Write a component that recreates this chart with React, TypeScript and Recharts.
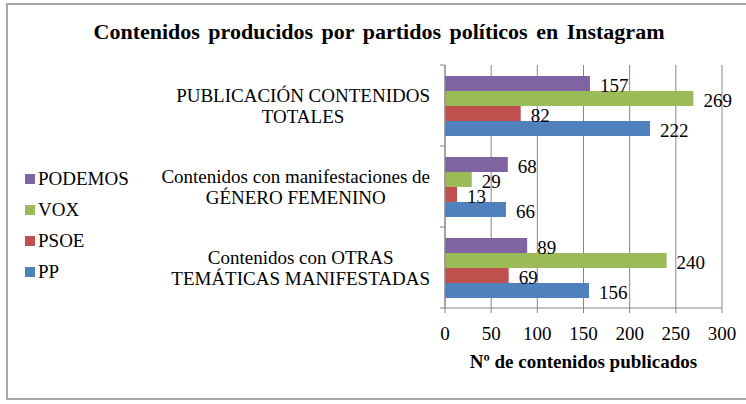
import React from "react";
import { Bar, BarChart, CartesianGrid, LabelList, Legend, XAxis, YAxis } from "recharts";

const categories = [
  "PUBLICACIÓN CONTENIDOS\nTOTALES",
  "Contenidos con manifestaciones de\nGÉNERO FEMENINO",
  "Contenidos con OTRAS\nTEMÁTICAS MANIFESTADAS",
];
const podemos = [157, 68, 89];
const vox = [269, 29, 240];
const psoe = [82, 13, 69];
const pp = [222, 66, 156];
const xTicks = [0, 50, 100, 150, 200, 250, 300];

const series = [
  { key: "PODEMOS", values: podemos, color: "#8064A2" },
  { key: "VOX", values: vox, color: "#9BBB59" },
  { key: "PSOE", values: psoe, color: "#C0504D" },
  { key: "PP", values: pp, color: "#4F81BD" },
];

const data = categories.map((name, i) => {
  const row: Record<string, string | number> = { name };
  series.forEach((s) => (row[s.key] = s.values[i]));
  return row;
});

const FONT = "Liberation Serif";
const FS = 19;
const W = 746;
const H = 404;
const AXIS_X = 445;
const PLOT_TOP = 65;
const PLOT_BOTTOM = 308;
const GRAY = "#878787";

let ctx: CanvasRenderingContext2D | null = null;
function textWidth(s: string) {
  if (!ctx) ctx = document.createElement("canvas").getContext("2d");
  if (!ctx) return s.length * 9;
  ctx.font = `${FS}px "${FONT}"`;
  return ctx.measureText(s).width;
}

// category label, centred as a block just left of the axis, plus the tick marks between groups
function CategoryTick(props: any) {
  const { y, payload, index } = props;
  const lines = String(payload.value).split("\n");
  const band = (PLOT_BOTTOM - PLOT_TOP) / categories.length;
  const maxW = Math.max(...lines.map(textWidth));
  const cx = AXIS_X - 15 - maxW / 2;
  return (
    <g>
      <line x1={AXIS_X - 5} x2={AXIS_X} y1={y - band / 2} y2={y - band / 2} stroke={GRAY} />
      {index === categories.length - 1 && (
        <line x1={AXIS_X - 5} x2={AXIS_X} y1={y + band / 2} y2={y + band / 2} stroke={GRAY} />
      )}
      <text textAnchor="middle" fontSize={FS} style={{ fontFamily: FONT }} fill="#000">
        {lines.map((l, i) => (
          <tspan key={i} x={cx} y={y - 4 + i * 21}>
            {l}
          </tspan>
        ))}
      </text>
    </g>
  );
}

function LegendBox() {
  return (
    <div style={{ fontFamily: FONT, fontSize: FS, color: "#000" }}>
      {series.map((s) => (
        <div key={s.key} style={{ display: "flex", alignItems: "center", height: 31 }}>
          <span style={{ width: 10, height: 10, background: s.color, marginRight: 3 }} />
          {s.key}
        </div>
      ))}
    </div>
  );
}

export default function App() {
  return (
    <div style={{ position: "absolute", left: 0, top: 0, width: W, height: H, background: "#fff", fontFamily: FONT }}>
      <div
        style={{
          position: "absolute",
          left: 6,
          top: 3,
          width: W,
          height: 397,
          border: "2px solid #a6a6a6",
          boxSizing: "border-box",
        }}
      />
      <div
        style={{
          position: "absolute",
          left: 0,
          width: 758,
          top: 19,
          textAlign: "center",
          fontWeight: "bold",
          fontSize: 22,
          wordSpacing: 3,
        }}
      >
        Contenidos producidos por partidos políticos en Instagram
      </div>
      <div style={{ position: "absolute", left: 0, top: 0 }}>
        <BarChart
          width={W}
          height={H}
          data={data}
          layout="vertical"
          style={{ fontFamily: FONT }}
          margin={{ top: PLOT_TOP, right: W - 722, bottom: H - PLOT_BOTTOM - 62, left: 0 }}
          barCategoryGap="13.5%"
          barGap={0}
        >
          <CartesianGrid horizontal={false} stroke={GRAY} />
          <XAxis
            type="number"
            domain={[0, 300]}
            ticks={xTicks}
            height={62}
            tickSize={5}
            tickMargin={14}
            stroke={GRAY}
            tick={{ fill: "#000", fontSize: FS, style: { fontFamily: FONT } }}
            label={{
              value: "Nº de contenidos publicados",
              position: "insideBottom",
              offset: 2,
              fill: "#000",
              fontSize: FS,
              fontWeight: "bold",
              style: { fontFamily: FONT },
            }}
          />
          <YAxis
            type="category"
            dataKey="name"
            width={AXIS_X}
            stroke={GRAY}
            tickLine={false}
            tick={<CategoryTick />}
            interval={0}
          />
          <Legend
            layout="horizontal"
            align="center"
            verticalAlign="middle"
            content={<LegendBox />}
            wrapperStyle={{ left: 25, top: 163, width: 130 }}
          />
          {series.map((s) => (
            <Bar key={s.key} dataKey={s.key} fill={s.color} isAnimationActive={false}>
              <LabelList
                dataKey={s.key}
                position="right"
                offset={10}
                fill="#000"
                fontSize={FS}
                style={{ fontFamily: FONT }}
                dy={2}
              />
            </Bar>
          ))}
        </BarChart>
      </div>
    </div>
  );
}
